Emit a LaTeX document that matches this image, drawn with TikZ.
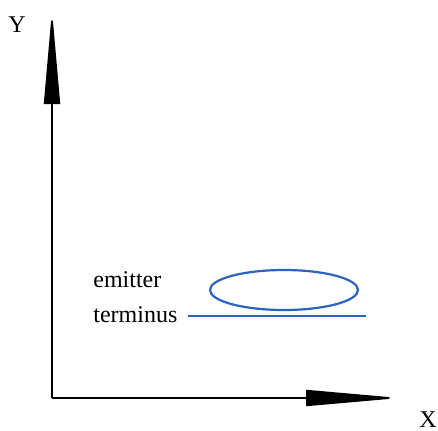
\documentclass[tikz,border=0pt]{standalone}
\usepackage{fontspec}
\setmainfont{Liberation Serif}
\usetikzlibrary{positioning,arrows.meta,shapes.geometric}
\definecolor{emitcolor}{RGB}{45,98,190}

\begin{document}
\begin{tikzpicture}[x=0.5pt, y=0.5pt,
  axis/.style={-{Triangle[length=47pt, width=8pt]}, line width=0.9pt},
  lbl/.style={font=\fontsize{12}{14}\selectfont, inner sep=0pt},
  emitbox/.style={draw=emitcolor, ellipse, line width=1.1pt, minimum width=74pt, minimum height=20pt, inner sep=0pt},
  termline/.style={draw=emitcolor, line width=0.9pt},
]
\useasboundingbox (0,0) rectangle (438,430);

% ===== axes =====
\coordinate (o) at (52, 32);
\coordinate (ytip) at (52, 420);
\coordinate (xtip) at (400, 32);
\draw[axis] (o) -- (ytip);
\draw[axis] (o) -- (xtip);
\node[lbl] (ylbl) at (17, 405) {Y};
\node[lbl] (xlbl) at (428, 10) {X};

% ===== emitter and terminus =====
\node[emitbox] (emit) at (284, 140) {};
\coordinate (tl) at (188, 114);
\coordinate (tr) at (366, 114);
\draw[termline] (tl) -- (tr);

\node[lbl, anchor=base west] (emitlbl) at (93, 143) {emitter};
\node[lbl, anchor=base west] (termlbl) at (93, 108) {terminus};

\end{tikzpicture}
\end{document}
